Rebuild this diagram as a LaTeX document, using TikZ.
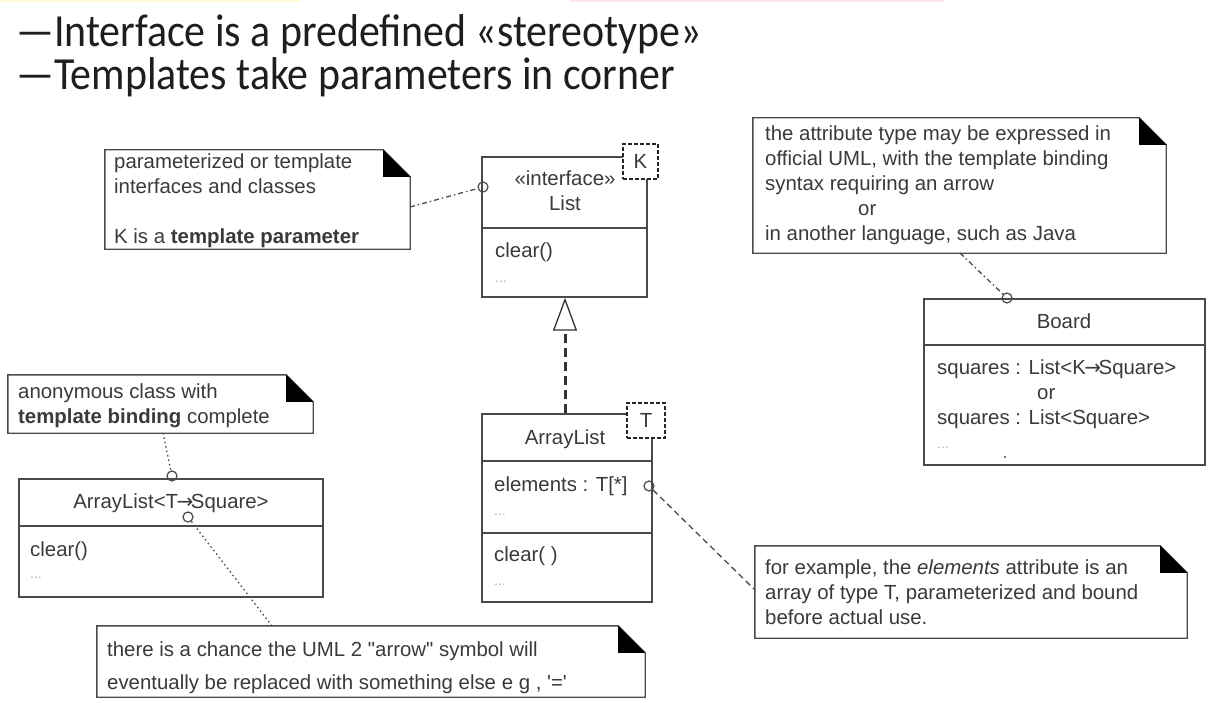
\documentclass[tikz,border=0pt]{standalone}
\usepackage{fontspec}
\setmainfont{Liberation Sans}
\newfontfamily\titlefont{Carlito}
\newfontfamily\qfont{Liberation Sans}
\newfontfamily\arrowfont{DejaVu Sans}
\usetikzlibrary{arrows.meta,fit,calc}
\definecolor{linec}{HTML}{4A4A4A}
\definecolor{textc}{HTML}{3A3A3A}
\definecolor{titlec}{HTML}{1E1E1E}
\newcommand\dq{{\qfont"}}
\newcommand\sq{{\qfont'}}
\newcommand\bindarrow{\hspace{-1.5pt}{\arrowfont\fontsize{20}{20}\selectfont →}\hspace{-2.5pt}}
\newcommand\notefold[1]{%
  \draw[notepath] (#1.north west) -- ($(#1.north east)+(-27,0)$) -- ($(#1.north east)+(0,27)$) -- (#1.south east) -- (#1.south west) -- cycle;
  \fill[black] ($(#1.north east)+(-27,0)$) -- ($(#1.north east)+(-27,27)$) -- ($(#1.north east)+(0,27)$) -- cycle;}
\begin{document}
\begin{tikzpicture}[x=1pt,y=-1pt,
  frame/.style={inner sep=0pt},
  classbox/.style={draw=linec, line width=1.4pt, inner sep=0pt},
  notepath/.style={draw=linec, line width=1.4pt, fill=white},
  txt/.style={font=\fontsize{20.4}{25}\selectfont, text=textc, inner sep=0pt, align=left},
  ctxt/.style={font=\fontsize{20.4}{25}\selectfont, text=textc, inner sep=0pt},
  dots/.style={font=\fontsize{14}{25}\selectfont, text=gray!60, inner sep=0pt},
  titletxt/.style={font=\titlefont\fontsize{46}{43}\selectfont, text=titlec, inner sep=0pt, align=left},
  param/.style={draw=black!85, dash pattern=on 4pt off 2pt, line width=2pt, fill=white, inner sep=0pt,
    font=\fontsize{20}{24}\selectfont, text=textc},
  port/.style={circle, draw=linec, line width=1.2pt, minimum size=10pt, inner sep=0pt},
  dotline/.style={draw=linec, line width=1.3pt, dash pattern=on 1.5pt off 3pt},
  dashdot/.style={draw=linec, line width=1.3pt, dash pattern=on 5pt off 3pt on 1.5pt off 3pt},
  dashline/.style={draw=linec, line width=1.3pt, dash pattern=on 6pt off 4pt},
  realize/.style={draw=black!80, line width=3pt, dash pattern=on 9pt off 5pt,
    -{Triangle[open, width=24pt, length=33pt, line width=1.3pt]}}
]
\useasboundingbox (0,0) rectangle (1214,703);
\fill[white] (0,0) rectangle (1214,703);
\fill[yellow!18] (0,0) rectangle (300,2);
\fill[red!9] (570,0) rectangle (945,2);

% title
\node[titletxt, anchor=north west] (title) at (16,14) {\scalebox{0.91}[1]{—Interface is a predefined «stereotype»}\\\scalebox{0.91}[1]{—Templates take parameters in corner}};

% note 1
\node[frame, fit={(105,150)(410,249)}] (n1) {};
\notefold{n1}
\node[txt, anchor=north west] (n1t) at (114,154) {parameterized or template\\interfaces and classes\\[25pt]K is a \textbf{template parameter}};

% List interface
\node[classbox, fit={(482,157)(647,297)}] (list) {};
\draw[classbox] (list.west |- 0,228) -- (list.east |- 0,228);
\node[ctxt, anchor=base] (listst) at (565,186) {«interface»};
\node[ctxt, anchor=base] (listname) at (565,211) {List};
\node[ctxt, anchor=base west] (listop) at (495,257) {clear()};
\node[dots, anchor=base west] (listdots) at (495,282) {...};
\node[param, fit={(623,144)(658,179)}] (kbox) {};
\node[ctxt] (klabel) at (kbox.center) {K};
\node[port] (c1) at (483,187) {};
\coordinate (n1p) at (410,207);
\draw[dashdot] (n1p) -- (c1);

% ArrayList
\node[classbox, fit={(482,414)(652,602)}] (al) {};
\draw[classbox] (al.west |- 0,461) -- (al.east |- 0,461);
\draw[classbox] (al.west |- 0,533) -- (al.east |- 0,533);
\node[ctxt, anchor=base] (alname) at (565,444) {ArrayList};
\node[ctxt, anchor=base west] (alattr) at (494,491) {elements : T[*]};
\node[dots, anchor=base west] (aldots1) at (494,515) {...};
\node[ctxt, anchor=base west] (alop) at (494,561) {clear( )};
\node[dots, anchor=base west] (aldots2) at (494,585) {...};
\node[param, fit={(627,403)(665,438)}] (tbox) {};
\node[ctxt] (tlabel) at (tbox.center) {T};
\node[port] (c3) at (649,486) {};

% realization
\draw[realize] (al.north -| 565,0) -- (list.south -| 565,0);

% attribute note
\node[frame, fit={(753,118)(1166,253)}] (n2) {};
\notefold{n2}
\node[txt, anchor=north west] (n2t) at (765,126) {the attribute type may be expressed in\\official UML, with the template binding\\syntax requiring an arrow\\\hspace*{93pt}or\\in another language, such as Java};

% Board
\node[classbox, fit={(924,299)(1205,465)}] (board) {};
\draw[classbox] (board.west |- 0,345) -- (board.east |- 0,345);
\node[ctxt, anchor=base] (boardname) at (1064,328) {Board};
\node[txt, anchor=north west] (boardattr) at (937,360) {squares : List<K\bindarrow Square>\\\hspace*{100pt}or\\squares : List<Square>};
\node[dots, anchor=base west] (boarddots) at (937,448) {...};
\fill[linec] (1005,457) circle (1.2);
\node[port] (c2) at (1007,298) {};
\coordinate (n2p) at (960,253);
\draw[dashdot] (n2p) -- (c2);

% for example note
\node[frame, fit={(755,546)(1187,638)}] (n3) {};
\notefold{n3}
\node[txt, anchor=north west] (n3t) at (765,560) {for example, the \textit{elements} attribute is an\\array of type T, parameterized and bound\\before actual use.};
\coordinate (n3p) at (755,590);
\draw[dashline] (c3) -- (n3p);

% anonymous note
\node[frame, fit={(8,375)(313,433)}] (n4) {};
\notefold{n4}
\node[txt, anchor=north west] (n4t) at (18,384) {anonymous class with\\\textbf{template binding} complete};

% ArrayList<T->Square>
\node[classbox, fit={(19,479)(323,597)}] (bound) {};
\draw[classbox] (bound.west |- 0,526) -- (bound.east |- 0,526);
\node[ctxt, anchor=base] (boundname) at (171,508) {ArrayList<T\bindarrow Square>};
\node[ctxt, anchor=base west] (boundop) at (30,556) {clear()};
\node[dots, anchor=base west] (bounddots) at (30,578) {...};
\node[port] (c4) at (172,476) {};
\coordinate (n4p) at (163,433);
\draw[dotline] (n4p) -- (c4);
\node[port] (c5) at (188,517) {};

% bottom note
\node[frame, fit={(97,626)(645,697)}] (n5) {};
\notefold{n5}
\node[txt, anchor=north west, font=\fontsize{20.4}{33}\selectfont] (n5t) at (107,642) {there is a chance the UML 2 \dq arrow\dq\ symbol will\\eventually be replaced with something else e g , \sq=\sq};
\coordinate (n5p) at (272,626);
\draw[dotline] (c5) -- (n5p);
\end{tikzpicture}
\end{document}
